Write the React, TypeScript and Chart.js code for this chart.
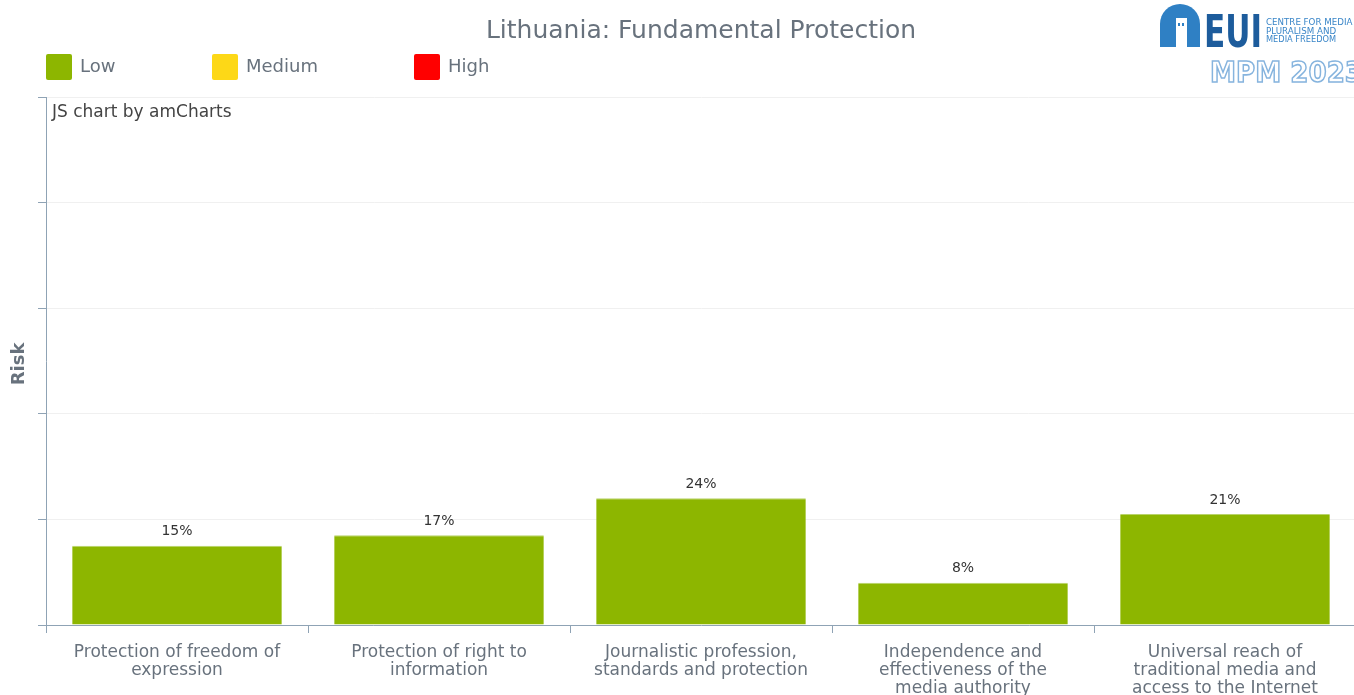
import React, { useEffect, useRef } from "react";
import { Chart, registerables } from "chart.js";

Chart.register(...registerables);

const chartTitle = "Lithuania: Fundamental Protection";
const categories: string[][] = [
  ["Protection of freedom of", "expression"],
  ["Protection of right to", "information"],
  ["Journalistic profession,", "standards and protection"],
  ["Independence and", "effectiveness of the", "media authority"],
  ["Universal reach of", "traditional media and", "access to the Internet"],
];
const riskValues = [15, 17, 24, 8, 21];
const legendLabels = ["Low", "Medium", "High"];
const legendColors = ["#8db600", "#fdd817", "#ff0000"];
const yAxisTitle = "Risk";
const creditText = "JS chart by amCharts";
const logoSmallLines = ["CENTRE FOR MEDIA", "PLURALISM AND", "MEDIA FREEDOM"];
const logoBig = "EUI";
const logoYear = "MPM 2023";

const AXIS = "#8fa3b5";
const TEXT = "#68727d";
const FONT = "'DejaVu Sans', Verdana, sans-serif";

function fitText(ctx: CanvasRenderingContext2D, text: string, x: number, y: number, width: number, stroke = false) {
  const w = ctx.measureText(text).width;
  ctx.save();
  ctx.translate(x, y);
  ctx.scale(width / w, 1);
  if (stroke) ctx.strokeText(text, 0, 0);
  else ctx.fillText(text, 0, 0);
  ctx.restore();
}

const overlayPlugin = {
  id: "overlay",
  beforeDraw(chart: any) {
    const ctx = chart.ctx;
    ctx.save();
    ctx.fillStyle = "#ffffff";
    ctx.fillRect(0, 0, chart.width, chart.height);
    ctx.restore();
  },
  afterDraw(chart: any) {
    const ctx = chart.ctx as CanvasRenderingContext2D;
    ctx.save();
    // title
    ctx.fillStyle = TEXT;
    ctx.font = `25px ${FONT}`;
    ctx.textAlign = "center";
    ctx.textBaseline = "middle";
    ctx.fillText(chartTitle, 701, 31);

    // legend
    const legendX = [46, 212, 414];
    legendLabels.forEach((lab, i) => {
      const x = legendX[i];
      ctx.fillStyle = legendColors[i];
      ctx.beginPath();
      (ctx as any).roundRect ? (ctx as any).roundRect(x, 54, 26, 26, 2) : ctx.rect(x, 54, 26, 26);
      ctx.fill();
      ctx.fillStyle = TEXT;
      ctx.font = `18px ${FONT}`;
      ctx.textAlign = "left";
      ctx.textBaseline = "middle";
      ctx.fillText(lab, x + 34, 67);
    });

    // credit
    ctx.fillStyle = "#444444";
    ctx.font = `17px ${FONT}`;
    ctx.textAlign = "left";
    ctx.textBaseline = "middle";
    ctx.fillText(creditText, 52, 113);

    // y title
    ctx.save();
    ctx.translate(19, 364);
    ctx.rotate(-Math.PI / 2);
    ctx.fillStyle = TEXT;
    ctx.font = `bold 18px ${FONT}`;
    ctx.textAlign = "center";
    ctx.textBaseline = "middle";
    ctx.fillText(yAxisTitle, 0, 0);
    ctx.restore();

    // logo arch
    ctx.fillStyle = "#2f80c4";
    ctx.beginPath();
    ctx.moveTo(1160, 47);
    ctx.lineTo(1160, 24);
    ctx.arc(1180, 24, 20, Math.PI, 0);
    ctx.lineTo(1200, 47);
    ctx.closePath();
    ctx.fill();
    ctx.fillStyle = "#ffffff";
    ctx.fillRect(1176, 18, 11, 29);
    ctx.fillStyle = "#2f80c4";
    ctx.fillRect(1178, 23, 2, 3);
    ctx.fillRect(1182, 23, 2, 3);
    ctx.fillStyle = "#1d5c9c";
    ctx.font = `bold 44px ${FONT}`;
    ctx.textAlign = "left";
    ctx.textBaseline = "alphabetic";
    fitText(ctx, logoBig, 1204, 47, 58);
    ctx.fillStyle = "#3a86c8";
    ctx.font = `8px ${FONT}`;
    logoSmallLines.forEach((l, i) => fitText(ctx, l, 1266, 25 + i * 8.5, l.length * 5.4));
    ctx.font = `bold 29px ${FONT}`;
    ctx.strokeStyle = "#86b4de";
    ctx.lineWidth = 1.6;
    fitText(ctx, logoYear, 1210, 82, 153, true);

    // value labels
    const meta = chart.getDatasetMeta(0);
    ctx.fillStyle = "#333333";
    ctx.font = `14px ${FONT}`;
    ctx.textAlign = "center";
    ctx.textBaseline = "middle";
    meta.data.forEach((bar: any, i: number) => {
      ctx.fillText(`${riskValues[i]}%`, bar.x, bar.y - 14);
    });
    ctx.restore();
  },
};

export default function App() {
  const ref = useRef<HTMLCanvasElement>(null);
  useEffect(() => {
    document.body.style.margin = "0";
    const chart = new Chart(ref.current as HTMLCanvasElement, {
      type: "bar",
      data: {
        labels: categories,
        datasets: [
          {
            data: riskValues,
            backgroundColor: "#8db600",
            borderColor: "#b9d36a",
            borderWidth: { top: 1, left: 0, right: 0, bottom: 0 },
            borderSkipped: false,
            categoryPercentage: 0.8,
            barPercentage: 1,
          },
        ],
      },
      options: {
        responsive: false,
        animation: false,
        devicePixelRatio: 1,
        layout: { padding: { top: 97, left: 0, right: 0, bottom: 0 } },
        plugins: { legend: { display: false }, title: { display: false }, tooltip: { enabled: false } },
        scales: {
          x: {
            grid: {
              offset: true,
              drawOnChartArea: false,
              drawTicks: true,
              tickLength: 8,
              color: AXIS,
              tickColor: AXIS,
            },
            border: { color: AXIS, width: 1 },
            ticks: {
              color: TEXT,
              font: { family: FONT, size: 17, lineHeight: 18 / 17 },
              padding: 11,
              maxRotation: 0,
              autoSkip: false,
            },
            afterFit: (s: any) => {
              s.height = 70;
            },
          },
          y: {
            min: 0,
            max: 100,
            ticks: { stepSize: 20, display: false },
            grid: { color: "#f0f0f0", tickColor: AXIS, tickLength: 8, drawTicks: true },
            border: { color: AXIS, width: 1 },
            afterFit: (s: any) => {
              s.width = 46;
            },
          },
        },
      },
      plugins: [overlayPlugin],
    });
    return () => chart.destroy();
  }, []);
  return (
    <div style={{ position: "fixed", left: 0, top: 0, width: 1354, height: 695, overflow: "hidden" }}>
      <canvas ref={ref} width={1356} height={695} style={{ display: "block" }} />
    </div>
  );
}
